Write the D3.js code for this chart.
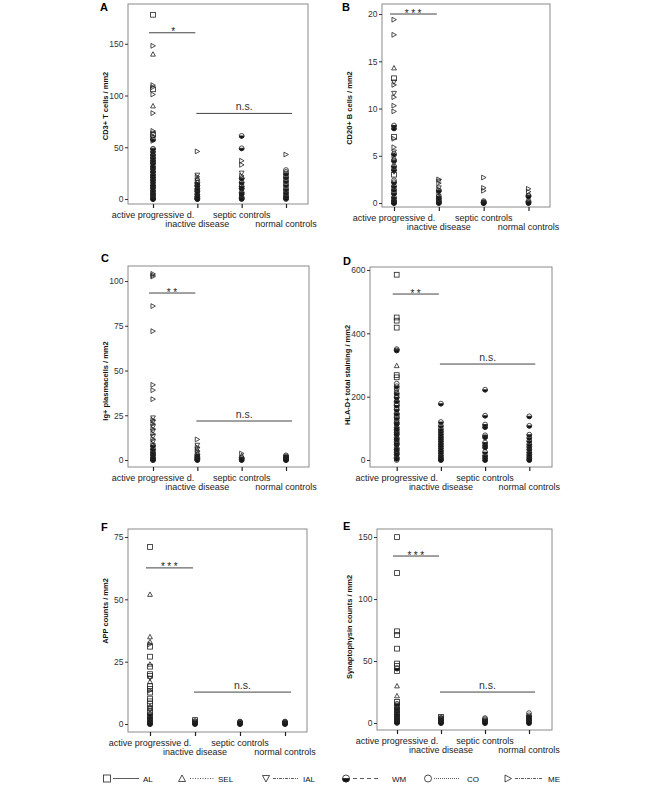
<!DOCTYPE html>
<html><head><meta charset="utf-8">
<script src="https://cdn.jsdelivr.net/npm/d3@7"></script>
<style>body{margin:0;background:#fff}svg{display:block;font-family:"Liberation Sans",Arial,sans-serif}</style>
</head><body>
<script>
// ---------- DATA ----------
const groups = ["active progressive d.", "inactive disease", "septic controls", "normal controls"];
const legendCodes = ["AL", "SEL", "IAL", "WM", "CO", "ME"];

// A: CD3+ T cells / mm2
const cd3Ticks = [0, 50, 100, 150];
const cd3Active = [[178,"AL"],[148,"ME"],[140,"SEL"],[110,"ME"],[108,"ME"],[106,"AL"],[101,"ME"],[90,"SEL"],[83,"ME"],[65.8,"ME"],[63.5,"IAL"],[62,"AL"],[60.4,"ME"],[59.1,"IAL"],[57.6,"WM"],[56.2,"ME"],[48.6,"WM"],[47.2,"IAL"],[45.9,"WM"],[44.1,"SEL"],[42.8,"WM"],[41.5,"ME"],[39.7,"WM"],[38.2,"IAL"],[37.4,"WM"],[35.9,"CO"],[34.6,"WM"],[33.1,"IAL"],[31.8,"WM"],[30.2,"ME"],[29.4,"WM"],[27.7,"SEL"],[26.5,"WM"],[25.1,"IAL"],[23.8,"WM"],[22.6,"CO"],[21.3,"WM"],[19.9,"ME"],[18.4,"WM"],[17.2,"IAL"],[16.1,"WM"],[14.7,"SEL"],[13.5,"WM"],[12.2,"CO"],[10.8,"WM"],[9.6,"IAL"],[8.3,"WM"],[7.1,"ME"],[5.9,"WM"],[4.6,"CO"],[3.2,"WM"],[2.1,"IAL"],[1.0,"WM"],[0.3,"CO"],[0,"WM"]];
const cd3Inactive = [[46,"ME"],[23,"IAL"],[21.5,"ME"],[19.8,"SEL"],[17.5,"IAL"],[15.8,"WM"],[14.2,"ME"],[12.9,"WM"],[11.4,"IAL"],[10.1,"WM"],[8.7,"CO"],[7.4,"WM"],[6.0,"IAL"],[4.8,"WM"],[3.5,"ME"],[2.3,"WM"],[1.2,"CO"],[0.4,"WM"],[0,"WM"]];
const cd3Septic = [[61,"WM"],[49,"WM"],[37,"ME"],[33,"ME"],[25,"IAL"],[22.4,"ME"],[20.1,"WM"],[18.3,"IAL"],[16.2,"WM"],[14.1,"ME"],[12.3,"WM"],[10.2,"WM"],[8.4,"IAL"],[6.5,"WM"],[4.9,"WM"],[3.1,"ME"],[1.8,"WM"],[0,"CO"],[0.3,"WM"]];
const cd3Normal = [[43,"ME"],[28,"CO"],[26.2,"CO"],[24.6,"WM"],[22.8,"CO"],[21.1,"WM"],[19.2,"CO"],[17.4,"WM"],[15.3,"CO"],[13.6,"WM"],[11.2,"CO"],[9.5,"WM"],[7.9,"CO"],[6.1,"WM"],[4.4,"CO"],[2.9,"WM"],[1.7,"CO"],[0.6,"WM"],[0,"CO"]];
const cd3Sig = [160.6, 82.7];

// B: CD20+ B cells / mm2
const cd20Ticks = [0, 5, 10, 15, 20];
const cd20Active = [[19.4,"ME"],[17.8,"ME"],[14.3,"SEL"],[13.2,"AL"],[12.8,"IAL"],[12.5,"ME"],[11.6,"IAL"],[11.2,"ME"],[10.3,"ME"],[9.7,"ME"],[8.2,"WM"],[8.0,"IAL"],[7.9,"WM"],[7.0,"AL"],[6.8,"ME"],[5.9,"ME"],[5.4,"IAL"],[5.2,"WM"],[5.0,"ME"],[4.8,"SEL"],[4.5,"WM"],[4.2,"IAL"],[3.9,"WM"],[3.7,"ME"],[3.5,"WM"],[3.3,"IAL"],[3.0,"AL"],[2.4,"CO"],[2.2,"WM"],[2.0,"IAL"],[1.8,"WM"],[1.6,"ME"],[1.4,"WM"],[1.2,"CO"],[1.0,"WM"],[0.8,"IAL"],[0.6,"WM"],[0.45,"ME"],[0.3,"WM"],[0.15,"CO"],[0.05,"WM"],[0,"WM"]];
const cd20Inactive = [[2.5,"ME"],[2.3,"IAL"],[2.1,"ME"],[1.6,"IAL"],[1.45,"ME"],[1.3,"WM"],[1.1,"IAL"],[0.9,"ME"],[0.7,"WM"],[0.5,"WM"],[0.35,"CO"],[0.2,"WM"],[0.1,"WM"],[0,"WM"]];
const cd20Septic = [[2.7,"ME"],[1.6,"ME"],[1.3,"ME"],[0.2,"WM"],[0.1,"WM"],[0.05,"WM"],[0,"CO"],[0,"WM"]];
const cd20Normal = [[1.5,"ME"],[1.2,"ME"],[0.8,"WM"],[0.7,"WM"],[0.2,"WM"],[0.1,"WM"],[0,"WM"]];
const cd20Sig = [20, null];

// C: Ig+ plasmacells / mm2
const igTicks = [0, 25, 50, 75, 100];
const igActive = [[104,"ME"],[103.2,"ME"],[102.5,"ME"],[86,"ME"],[72,"ME"],[42,"ME"],[39,"ME"],[34,"ME"],[23.5,"IAL"],[22.4,"ME"],[21.2,"IAL"],[20.1,"ME"],[18.6,"IAL"],[17.3,"ME"],[16.1,"IAL"],[14.6,"ME"],[13.1,"IAL"],[11.7,"ME"],[10.2,"IAL"],[9.1,"ME"],[8.0,"WM"],[7.1,"IAL"],[6.2,"WM"],[5.3,"ME"],[4.4,"WM"],[3.6,"CO"],[2.8,"WM"],[2.0,"IAL"],[1.4,"WM"],[0.9,"CO"],[0.4,"WM"],[0,"WM"]];
const igInactive = [[11.5,"ME"],[8.2,"IAL"],[7.1,"ME"],[6.0,"IAL"],[5.1,"ME"],[4.0,"IAL"],[3.1,"WM"],[2.2,"WM"],[1.5,"WM"],[0.9,"WM"],[0.4,"WM"],[0,"WM"]];
const igSeptic = [[3.6,"ME"],[2.5,"SEL"],[1.2,"WM"],[0.6,"WM"],[0,"WM"]];
const igNormal = [[2.6,"WM"],[2.0,"WM"],[1.5,"WM"],[1.0,"WM"],[0.5,"WM"],[0.2,"WM"],[0,"WM"]];
const igSig = [93.3, 21.8];

// D: HLA-D+ total staining / mm2
const hlaTicks = [0, 200, 400, 600];
const hlaActive = [[585,"AL"],[450,"AL"],[440,"AL"],[418,"AL"],[350,"WM"],[346,"WM"],[298,"SEL"],[268,"AL"],[261,"AL"],[241,"CO"],[233,"WM"],[226,"CO"],[219,"ME"],[211,"WM"],[205,"CO"],[198,"WM"],[191,"IAL"],[186,"WM"],[179,"AL"],[172,"WM"],[165,"CO"],[159,"WM"],[152,"IAL"],[146,"WM"],[140,"AL"],[133,"WM"],[126,"CO"],[119,"WM"],[114,"WM"],[108,"IAL"],[103,"WM"],[97,"WM"],[92,"CO"],[87,"WM"],[81,"WM"],[76,"IAL"],[70,"WM"],[65,"WM"],[59,"CO"],[54,"WM"],[49,"WM"],[44,"IAL"],[38,"WM"],[33,"WM"],[28,"CO"],[23,"WM"],[18,"WM"],[13,"IAL"],[8,"WM"],[4,"WM"],[0,"CO"]];
const hlaInactive = [[178,"WM"],[120,"WM"],[108,"WM"],[98,"WM"],[90,"WM"],[82,"WM"],[74,"WM"],[67,"WM"],[60,"WM"],[52,"WM"],[45,"WM"],[38,"WM"],[30,"WM"],[23,"WM"],[15,"WM"],[8,"WM"],[3,"WM"],[0,"WM"]];
const hlaSeptic = [[222,"WM"],[140,"WM"],[112,"WM"],[104,"WM"],[78,"WM"],[72,"WM"],[55,"WM"],[47,"WM"],[40,"WM"],[25,"WM"],[14,"WM"],[7,"WM"],[0,"WM"]];
const hlaNormal = [[138,"WM"],[108,"WM"],[80,"WM"],[70,"WM"],[60,"WM"],[50,"WM"],[42,"WM"],[34,"WM"],[25,"WM"],[17,"WM"],[10,"WM"],[4,"WM"],[0,"WM"]];
const hlaSig = [524, 303];

// F: APP counts / mm2
const appTicks = [0, 25, 50, 75];
const appActive = [[71,"AL"],[52,"SEL"],[35,"SEL"],[33,"SEL"],[32,"ME"],[31,"AL"],[27,"AL"],[24,"SEL"],[23,"AL"],[20,"AL"],[19.3,"AL"],[18.4,"IAL"],[17,"SEL"],[15.2,"AL"],[14.1,"AL"],[13.4,"ME"],[12.6,"AL"],[10.2,"AL"],[9.1,"AL"],[8.0,"AL"],[7.1,"SEL"],[6.3,"AL"],[5.5,"IAL"],[4.7,"AL"],[4.0,"WM"],[3.4,"AL"],[2.8,"WM"],[2.2,"CO"],[1.7,"WM"],[1.2,"AL"],[0.8,"WM"],[0.4,"WM"],[0.1,"CO"],[0,"WM"]];
const appInactive = [[1.6,"AL"],[1.2,"WM"],[0.9,"IAL"],[0.6,"WM"],[0.3,"WM"],[0,"WM"]];
const appSeptic = [[1.0,"WM"],[0.8,"WM"],[0.6,"WM"],[0.4,"WM"],[0.2,"WM"],[0,"WM"]];
const appNormal = [[1.0,"WM"],[0.8,"WM"],[0.6,"WM"],[0.4,"WM"],[0.2,"WM"],[0,"WM"]];
const appSig = [62.6, 12.8];

// E: Synaptophysin counts / mm2
const synTicks = [0, 50, 100, 150];
const synActive = [[150,"AL"],[121,"AL"],[74,"AL"],[71,"AL"],[60,"AL"],[48,"AL"],[46,"AL"],[44,"WM"],[42,"AL"],[30,"SEL"],[22,"SEL"],[17,"AL"],[15.5,"WM"],[14.2,"AL"],[13.0,"IAL"],[11.8,"WM"],[10.7,"AL"],[9.6,"WM"],[8.5,"CO"],[7.4,"WM"],[6.4,"AL"],[5.5,"WM"],[4.6,"IAL"],[3.8,"WM"],[3.0,"CO"],[2.3,"WM"],[1.6,"AL"],[1.0,"WM"],[0.5,"WM"],[0,"CO"]];
const synInactive = [[5,"AL"],[4.3,"WM"],[3.6,"WM"],[3.0,"AL"],[2.4,"WM"],[1.8,"WM"],[1.2,"WM"],[0.6,"WM"],[0,"WM"]];
const synSeptic = [[4,"CO"],[3.1,"WM"],[2.2,"WM"],[1.4,"WM"],[0.7,"WM"],[0,"WM"]];
const synNormal = [[8,"CO"],[6.2,"WM"],[5,"WM"],[4,"WM"],[3,"WM"],[2,"WM"],[1,"WM"],[0,"WM"]];
const synSig = [134.7, 25];

// ---------- LAYOUT ----------
const panels = [
  {letter:"A", lp:[100,11], frame:[128,4,308,204], xr:[153,286], yd:[-4.8,188.4], ticks:cd3Ticks,
   title:"CD3+ T cells / mm2", tp:[107.5,106], data:[cd3Active,cd3Inactive,cd3Septic,cd3Normal], sig:cd3Sig, stars:"*"},
  {letter:"B", lp:[342,11], frame:[382,4,550,207], xr:[394,528.5], yd:[-0.42,21.06], ticks:cd20Ticks,
   title:"CD20+ B cells / mm2", tp:[351.5,108], data:[cd20Active,cd20Inactive,cd20Septic,cd20Normal], sig:cd20Sig, stars:"***"},
  {letter:"C", lp:[101,262], frame:[128,266,309,467], xr:[153,286], yd:[-3.9,108.4], ticks:igTicks,
   title:"Ig+ plasmacells / mm2", tp:[107.5,381], data:[igActive,igInactive,igSeptic,igNormal], sig:igSig, stars:"**"},
  {letter:"D", lp:[343,265], frame:[370,267,552,467], xr:[396.7,529.3], yd:[-22.1,609.4], ticks:hlaTicks,
   title:"HLA-D+ total staining / mm2", tp:[350,375], data:[hlaActive,hlaInactive,hlaSeptic,hlaNormal], sig:hlaSig, stars:"**"},
  {letter:"F", lp:[101,531], frame:[128,529,307,732], xr:[150,285], yd:[-3.2,78.2], ticks:appTicks,
   title:"APP  counts / mm2", tp:[108,611], data:[appActive,appInactive,appSeptic,appNormal], sig:appSig, stars:"***"},
  {letter:"E", lp:[343,530], frame:[377,529,552,730], xr:[397,529], yd:[-5.6,156.5], ticks:synTicks,
   title:"Synaptophysin counts / mm2", tp:[351.5,627], data:[synActive,synInactive,synSeptic,synNormal], sig:synSig, stars:"***"}
];

const svg = d3.select("body").append("svg").attr("width",660).attr("height",785);
svg.append("rect").attr("width",660).attr("height",785).attr("fill","#fff");

function drawSymbol(g, code, cx, cy, s) {
  const t = g.append("g").attr("transform", `translate(${cx},${cy})`)
    .attr("fill","none").attr("stroke","#222").attr("stroke-width",0.8);
  if (code === "AL") t.append("rect").attr("x",-s).attr("y",-s).attr("width",2*s).attr("height",2*s);
  else if (code === "SEL") t.append("path").attr("d",`M0,${-s}L${s},${s*0.85}L${-s},${s*0.85}Z`);
  else if (code === "IAL") t.append("path").attr("d",`M0,${s}L${s},${-s*0.85}L${-s},${-s*0.85}Z`);
  else if (code === "ME") t.append("path").attr("d",`M${s},0L${-s*0.85},${-s}L${-s*0.85},${s}Z`);
  else if (code === "CO") t.append("circle").attr("r",s);
  else if (code === "WM") {
    t.append("circle").attr("r",s);
    t.append("path").attr("d",`M${-s},0A${s},${s} 0 0 0 ${s},0Z`).attr("fill","#111");
  }
}

panels.forEach(p => {
  const [fx0, fy0, fx1, fy1] = p.frame;
  const g = svg.append("g");
  const x = d3.scalePoint().domain(groups).range(p.xr);
  const y = d3.scaleLinear().domain(p.yd).range([fy1, fy0]);

  // points
  p.data.forEach((arr, gi) => {
    arr.forEach(([v, code]) => drawSymbol(g, code, x(groups[gi]), y(v), 2.4));
  });

  // frame
  g.append("rect").attr("x",fx0).attr("y",fy0).attr("width",fx1-fx0).attr("height",fy1-fy0)
    .attr("fill","none").attr("stroke","#8a8a8a").attr("stroke-width",1);

  // y axis
  const ya = g.append("g").attr("transform",`translate(${fx0},0)`)
    .call(d3.axisLeft(y).tickValues(p.ticks).tickSize(3).tickPadding(1.5).tickFormat(d3.format("d")));
  ya.select(".domain").remove();
  ya.selectAll(".tick line").attr("stroke","#333");
  ya.selectAll(".tick text").attr("font-size","8.5px").attr("fill","#333")
    .attr("font-family","'Liberation Sans',Arial,sans-serif");

  // x axis
  const xa = g.append("g").attr("transform",`translate(0,${fy1})`)
    .call(d3.axisBottom(x).tickSize(4).tickFormat(""));
  xa.select(".domain").remove();
  xa.selectAll(".tick line").attr("stroke","#222").attr("stroke-width",1.2);
  groups.forEach((gname, i) => {
    g.append("text").attr("x", x(gname)).attr("y", fy1 + (i % 2 === 0 ? 14 : 23))
      .attr("text-anchor","middle").attr("font-size","9px").attr("fill","#222").text(gname);
  });

  // y title
  g.append("text").attr("transform",`translate(${p.tp[0]},${p.tp[1]}) rotate(-90)`)
    .attr("text-anchor","middle").attr("font-size","7.5px").attr("font-weight","bold").attr("fill","#111")
    .text(p.title);

  // panel letter
  g.append("text").attr("x",p.lp[0]).attr("y",p.lp[1]).attr("font-size","11px")
    .attr("font-weight","bold").attr("fill","#000").text(p.letter);

  // significance
  const sx0 = x(groups[0]) - 4, sx1 = x(groups[1]) - 2;
  const sy = y(p.sig[0]);
  g.append("line").attr("x1",sx0).attr("x2",sx1).attr("y1",sy).attr("y2",sy)
    .attr("stroke","#444").attr("stroke-width",1);
  g.append("text").attr("x",(sx0+sx1)/2 + 1).attr("y",sy + 2.5).attr("text-anchor","middle")
    .attr("font-size","10px").attr("letter-spacing", p.stars.length > 1 ? "2.5px" : "0")
    .attr("fill","#222").text(p.stars);
  if (p.sig[1] !== null) {
    const nx0 = x(groups[1]) - 1, nx1 = x(groups[3]) + 6;
    const ny = y(p.sig[1]);
    g.append("line").attr("x1",nx0).attr("x2",nx1).attr("y1",ny).attr("y2",ny)
      .attr("stroke","#444").attr("stroke-width",1);
    g.append("text").attr("x",(nx0+nx1)/2).attr("y",ny - 3).attr("text-anchor","middle")
      .attr("font-size","10.5px").attr("fill","#333").text("n.s.");
  }
});

// ---------- LEGEND ----------
const legendLayout = [
  {sx:107, l:[113,139], tx:143, dash:null},
  {sx:182, l:[190,215], tx:218, dash:"1,1.5"},
  {sx:266, l:[273,298], tx:303, dash:"3,1,1,1"},
  {sx:346, l:[353,380], tx:392, dash:"4,3"},
  {sx:428, l:[434,460], tx:467, dash:"1,1"},
  {sx:508, l:[515,542], tx:548, dash:"3,1,1,1"}
];
const leg = svg.append("g");
const ly = 778.5;
legendCodes.forEach((code, i) => {
  const L = legendLayout[i];
  drawSymbol(leg, code, L.sx, ly, 3.5);
  const ln = leg.append("line").attr("x1",L.l[0]).attr("x2",L.l[1]).attr("y1",ly).attr("y2",ly)
    .attr("stroke","#333").attr("stroke-width",0.8);
  if (L.dash) ln.attr("stroke-dasharray",L.dash);
  leg.append("text").attr("x",L.tx).attr("y",ly+3).attr("font-size","8px").attr("fill","#111").text(code);
});
</script>
</body></html>
